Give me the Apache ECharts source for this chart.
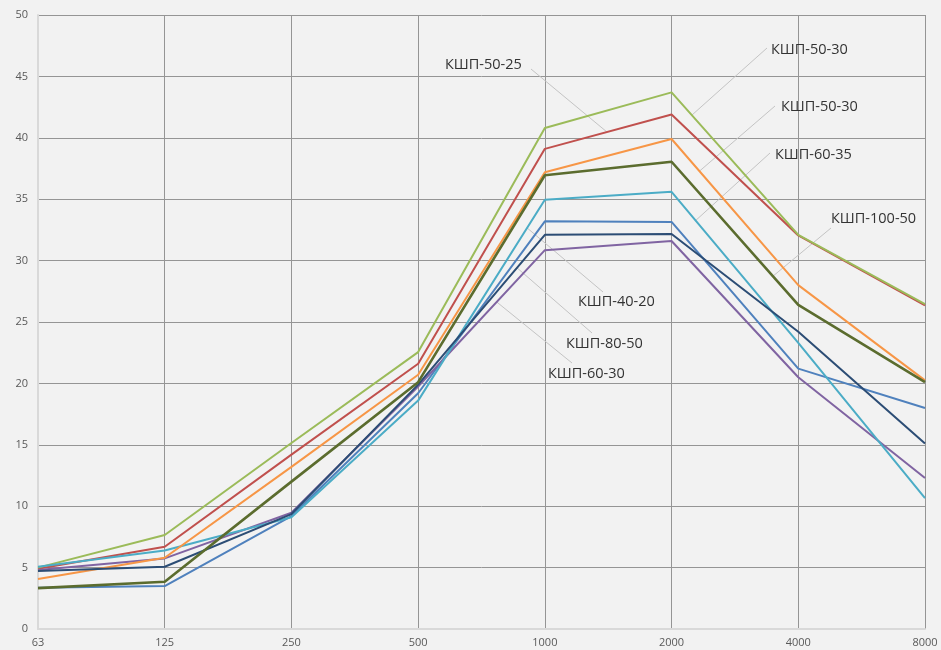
<!DOCTYPE html>
<html>
<head>
<meta charset="utf-8">
<script src="https://cdn.jsdelivr.net/npm/echarts@6/dist/echarts.min.js"></script>
<style>
html,body{margin:0;padding:0;background:#f2f2f2;}
#chart{width:941px;height:650px;}
</style>
</head>
<body>
<div id="chart"></div>
<script>
// Categories (frequency, Hz)
const categories = ['63', '125', '250', '500', '1000', '2000', '4000', '8000'];
const yTicks = { min: 0, max: 50, interval: 5 };

// Series values
const sBlue   = [3.35, 3.5, 9.2, 19.2, 33.2, 33.15, 21.2, 18.0];
const sRed    = [4.9, 6.7, 14.2, 21.6, 39.1, 41.9, 32.05, 26.35];
const sGreen  = [5.0, 7.65, 15.15, 22.55, 40.8, 43.7, 32.1, 26.45];
const sPurple = [4.8, 5.75, 9.47, 19.75, 30.85, 31.6, 20.5, 12.3];
const sCyan   = [5.07, 6.4, 9.1, 18.6, 34.95, 35.6, 23.3, 10.65];
const sOrange = [4.07, 5.8, 13.2, 20.7, 37.2, 39.9, 28.0, 20.25];
const sNavy   = [4.72, 5.07, 9.36, 19.9, 32.1, 32.17, 24.2, 15.1];
const sOlive  = [3.33, 3.85, 12.0, 20.1, 36.95, 38.05, 26.4, 20.1];

const seriesNames = ['КШП-60-35', 'КШП-50-25', 'КШП-50-30', 'КШП-60-30', 'КШП-40-20', 'КШП-50-30', 'КШП-80-50', 'КШП-100-50'];
const seriesData = [sBlue, sRed, sGreen, sPurple, sCyan, sOrange, sNavy, sOlive];
const seriesColors = ['#4F81BD', '#C0504D', '#9BBB59', '#8064A2', '#4BACC6', '#F79646', '#2C4D75', '#5B6C2E'];
const seriesWidths = [2, 2, 2, 2, 2, 2, 2, 2.6];

// Callout annotations: text, series index the leader points at, fractional category position
const calloutTexts  = ['КШП-50-25', 'КШП-50-30', 'КШП-50-30', 'КШП-60-35', 'КШП-100-50', 'КШП-40-20', 'КШП-80-50', 'КШП-60-30'];
const calloutSeries = [1, 2, 5, 4, 7, 4, 6, 3];
const calloutAt     = [4.49, 5.16, 5.22, 5.19, 5.80, 3.86, 3.78, 3.62];
// Label placement (pixels): text left, text middle, leader start
const calloutLabelPos  = [[445, 65], [771, 50], [781, 107], [775, 155], [831, 219], [578, 302], [566, 344], [548, 374]];
const calloutLeaderPos = [[531, 69], [767, 48], [775, 106], [770, 153], [831, 228], [603, 292], [592, 333], [572, 363]];

const chart = echarts.init(document.getElementById('chart'), null, { renderer: 'canvas' });

const gridColor = '#959595';
const option = {
  backgroundColor: '#f2f2f2',
  animation: false,
  grid: { left: 38, right: 16, top: 15, bottom: 21, containLabel: false },
  xAxis: {
    type: 'category',
    data: categories,
    boundaryGap: false,
    axisLine: { show: true, lineStyle: { color: '#d9d9d9', width: 2 } },
    axisTick: { show: false },
    axisLabel: { color: '#595959', fontSize: 11, fontFamily: 'Open Sans', margin: 8 },
    splitLine: { show: true, lineStyle: { color: gridColor, width: 1 } }
  },
  yAxis: {
    type: 'value',
    min: yTicks.min, max: yTicks.max, interval: yTicks.interval,
    axisLine: { show: true, lineStyle: { color: '#d9d9d9', width: 2 } },
    axisTick: { show: false },
    axisLabel: { color: '#595959', fontSize: 11, fontFamily: 'Open Sans', margin: 10 },
    splitLine: { show: true, lineStyle: { color: gridColor, width: 1 } }
  },
  series: seriesData.map((d, i) => ({
    name: seriesNames[i],
    type: 'line',
    data: d,
    symbol: 'none',
    smooth: false,
    z: 2 + i,
    lineStyle: { color: seriesColors[i], width: seriesWidths[i] },
    itemStyle: { color: seriesColors[i] }
  }))
};
chart.setOption(option);

function anchorPixel(si, pos) {
  const d = seriesData[si];
  const i0 = Math.floor(pos), i1 = Math.min(i0 + 1, d.length - 1);
  const t = pos - i0;
  const p0 = chart.convertToPixel({ gridIndex: 0 }, [i0, d[i0]]);
  const p1 = chart.convertToPixel({ gridIndex: 0 }, [i1, d[i1]]);
  return [p0[0] + (p1[0] - p0[0]) * t, p0[1] + (p1[1] - p0[1]) * t];
}

const elements = [];
calloutTexts.forEach((txt, k) => {
  const a = anchorPixel(calloutSeries[k], calloutAt[k]);
  const s = calloutLeaderPos[k];
  elements.push({
    type: 'line', z: 1, silent: true,
    shape: { x1: s[0], y1: s[1], x2: a[0], y2: a[1] },
    style: { stroke: '#c4c4c4', lineWidth: 1 }
  });
  elements.push({
    type: 'text', z: 20, silent: true,
    x: calloutLabelPos[k][0], y: calloutLabelPos[k][1],
    style: { text: txt, fill: '#333333', font: '14.5px "Open Sans"', textAlign: 'left', textVerticalAlign: 'middle' }
  });
});
chart.setOption({ graphic: { elements: elements } });
</script>
</body>
</html>
